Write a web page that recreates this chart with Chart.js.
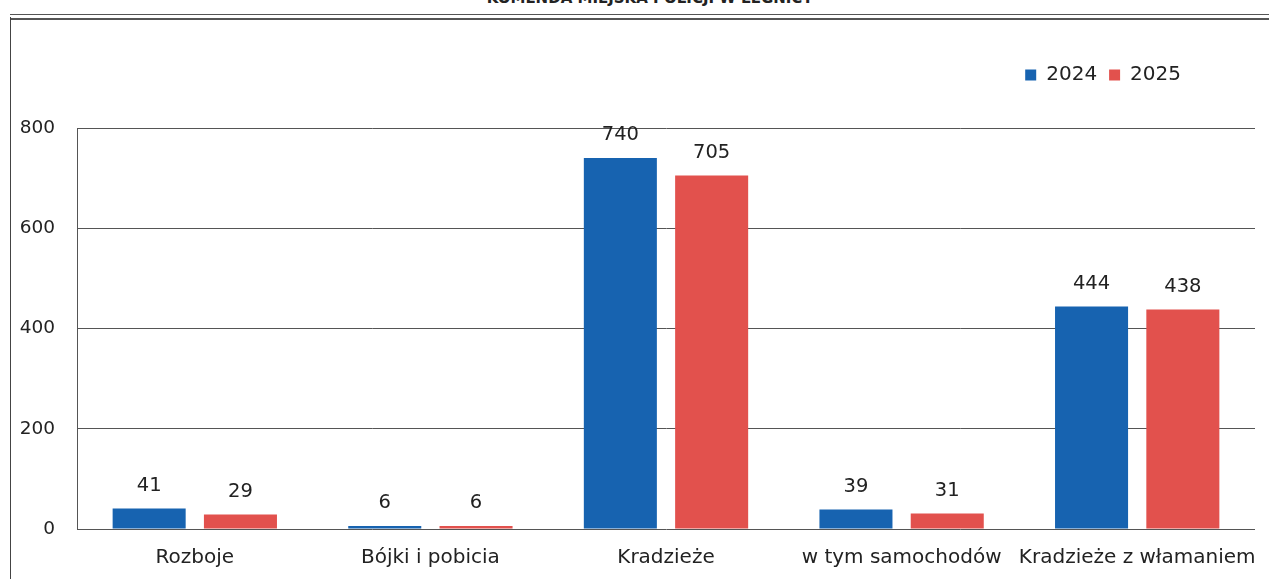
<!DOCTYPE html>
<html>
<head>
<meta charset="utf-8">
<script src="https://cdn.jsdelivr.net/npm/chart.js@4.4.1/dist/chart.umd.min.js"></script>
<style>
    html, body { margin: 0; padding: 0; background: #fff; }
    body { width: 1269px; height: 579px; position: relative; overflow: hidden; }
    .doc-title {
        position: absolute; top: -11px; left: 0; width: 1300px; text-align: center;
        font-family: "DejaVu Sans", sans-serif; font-size: 15px; font-weight: bold; color: #222;
    }
    .frame-top { position: absolute; left: 10px; right: 0; top: 14px; height: 3px; border-top: 1px solid #555; border-bottom: 2px solid #555; }
    .frame-left { position: absolute; left: 10px; top: 17px; bottom: 0; border-left: 1px solid #444; }
    .chart-box { position: absolute; left: 0; top: 0; width: 1269px; height: 579px; }
</style>
</head>
<body>
<div class="doc-title">KOMENDA MIEJSKA POLICJI W LEGNICY</div>
<div class="frame-top"></div>
<div class="frame-left"></div>
<div class="chart-box"><canvas id="crimeChart"></canvas></div>
<script>
// dane z wykresu
const categories = ['Rozboje', 'Bójki i pobicia', 'Kradzieże', 'w tym samochodów', 'Kradzieże z włamaniem'];
const values2024 = [41, 6, 740, 39, 444];
const values2025 = [29, 6, 705, 31, 438];
const yTicks = [0, 200, 400, 600, 800];

const FONT = '"DejaVu Sans", Verdana, sans-serif';

// etykiety wartości nad słupkami
const valueLabels = {
    id: 'valueLabels',
    afterDatasetsDraw(chart) {
        const ctx = chart.ctx;
        ctx.save();
        ctx.font = '19.5px ' + FONT;
        ctx.fillStyle = '#222';
        ctx.textAlign = 'center';
        ctx.textBaseline = 'middle';
        chart.data.datasets.forEach((ds, i) => {
            chart.getDatasetMeta(i).data.forEach((bar, j) => {
                ctx.fillText(ds.data[j], bar.x, bar.y - 23);
            });
        });
        ctx.restore();
    }
};

// odstęp pod legendą i przesunięcie legendy w lewo
const legendTweak = {
    id: 'legendTweak',
    beforeInit(chart) {
        const origFit = chart.legend.fit;
        chart.legend.fit = function() {
            origFit.bind(chart.legend)();
            this.height += 33;
        };
    },
    afterLayout(chart) {
        chart.legend.right -= 62;
    }
};

new Chart(document.getElementById('crimeChart'), {
    type: 'bar',
    data: {
        labels: categories,
        datasets: [{
            label: '2024',
            data: values2024,
            backgroundColor: '#1763b0',
            categoryPercentage: 0.775,
            barPercentage: 0.8
        }, {
            label: '2025',
            data: values2025,
            backgroundColor: '#e2514d',
            categoryPercentage: 0.775,
            barPercentage: 0.8
        }]
    },
    options: {
        responsive: true,
        maintainAspectRatio: false,
        animation: false,
        layout: {
            padding: { top: 53, right: 14, left: 0, bottom: 0 }
        },
        plugins: {
            legend: {
                position: 'top',
                align: 'end',
                labels: {
                    boxWidth: 11,
                    boxHeight: 11,
                    padding: 12,
                    color: '#222',
                    font: { family: FONT, size: 20 }
                }
            },
            tooltip: { enabled: false }
        },
        scales: {
            x: {
                grid: { display: false },
                border: { display: false },
                ticks: {
                    color: '#222',
                    padding: 9,
                    maxRotation: 0,
                    minRotation: 0,
                    autoSkip: false,
                    font: { family: FONT, size: 20 }
                },
                afterFit(scale) { scale.height = 50; }
            },
            y: {
                min: 0,
                max: 800,
                afterBuildTicks(scale) { scale.ticks = yTicks.map(v => ({ value: v })); },
                grid: { color: '#555', lineWidth: 1, drawTicks: false },
                border: { display: true, color: '#555', width: 1 },
                ticks: {
                    color: '#222',
                    padding: 22,
                    font: { family: FONT, size: 18.5 }
                },
                afterFit(scale) { scale.width = 77; }
            }
        }
    },
    plugins: [valueLabels, legendTweak]
});
</script>
</body>
</html>
